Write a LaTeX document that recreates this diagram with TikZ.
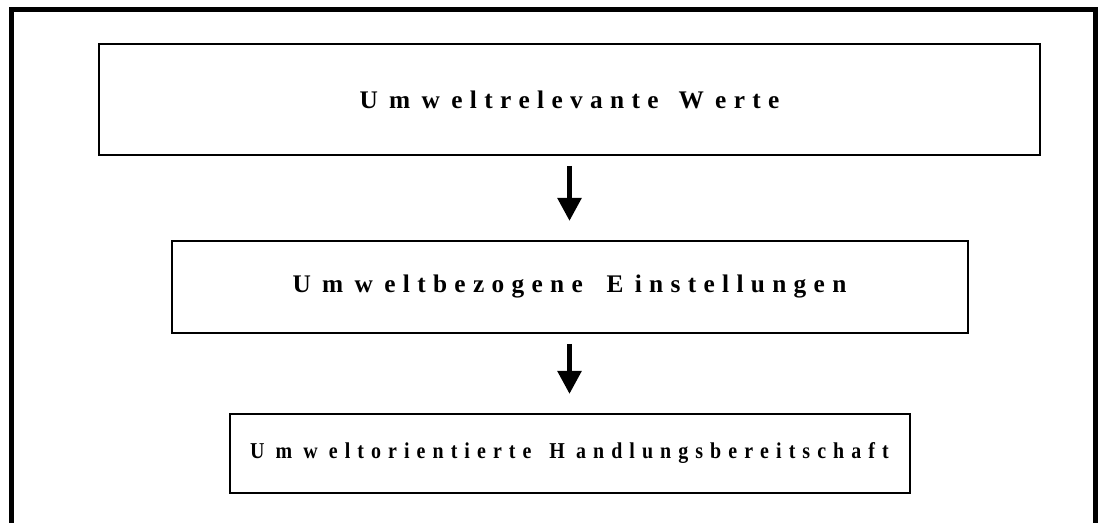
\documentclass[tikz,border=0pt]{standalone}
\usepackage{fontspec}
\setmainfont{Liberation Serif}
\newfontfamily\condfont[FakeStretch=0.88]{Liberation Serif}
\newlength\gapamt
\newcommand\gp{\kern\gapamt}
\makeatletter
% #1 letter gap, #2 word gap, #3 first word, #4 second word
\newcommand\spaced[4]{%
  \setlength\gapamt{\dimexpr 3pt-#1\relax}%
  \@tfor\sp@x:=#3\do{\sp@x\kern#1}\unkern\kern#2%
  \@tfor\sp@x:=#4\do{\sp@x\kern#1}\unkern}
\makeatother
\usetikzlibrary{arrows.meta}
\tikzset{
  frame/.style={line width=3.75pt, line join=miter},
  box/.style={draw, line width=1.5pt, rectangle, inner sep=0pt},
  bigtext/.style={font=\fontsize{19}{22}\selectfont\bfseries},
  smalltext/.style={font=\fontsize{17}{20}\condfont\bfseries},
  arr/.style={line width=4pt, -{Triangle[width=17.25pt,length=17.25pt]}, shorten <=7.5pt, shorten >=14.25pt}
}
\begin{document}
\begin{tikzpicture}[x=0.75pt,y=0.75pt]
\useasboundingbox (0,0) rectangle (1098,523);
\fill[white] (0,0) rectangle (1098,523);
\coordinate (fl) at (11.5,0);
\coordinate (ftl) at (11.5,513.5);
\coordinate (ftr) at (1095,513.5);
\coordinate (fr) at (1095,0);
\draw[frame] (fl) -- (ftl) -- (ftr) -- (fr);
\node[box, bigtext, minimum width=940.5*0.75pt, minimum height=111*0.75pt] (b1) at (569.5,423.5)
  {\spaced{5.5pt}{15pt}{U\gp m\gp w\gp eltrelevante}{W\gp erte}};
\node[box, bigtext, minimum width=796*0.75pt, minimum height=92*0.75pt] (b2) at (569.5,236)
  {\spaced{5.5pt}{17.8pt}{U\gp m\gp w\gp eltbezogene}{E\gp instellungen}};
\node[box, smalltext, minimum width=680*0.75pt, minimum height=79*0.75pt] (b3) at (569.5,69.5)
  {\spaced{5.3pt}{13.5pt}{U\gp m\gp w\gp eltorientierte}{H\gp andlungsbereitschaft}};
\draw[arr] (b1) -- (b2);
\draw[arr] (b2) -- (b3);
\end{tikzpicture}
\end{document}
